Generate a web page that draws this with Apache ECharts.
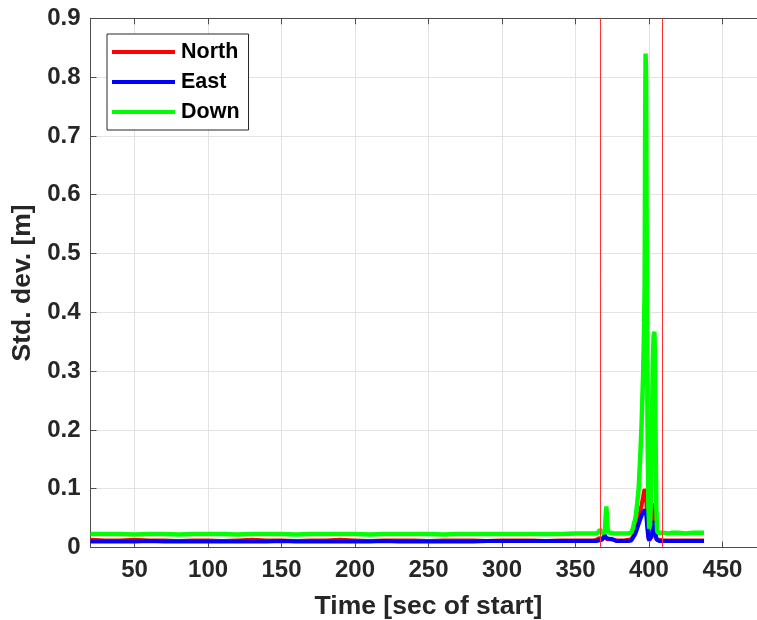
<!DOCTYPE html>
<html>
<head>
<meta charset="utf-8">
<title>Position standard deviation</title>
<script src="https://cdn.jsdelivr.net/npm/echarts@6/dist/echarts.min.js"></script>
<style>
  html, body { margin: 0; padding: 0; background: #ffffff; }
  #chart { width: 757px; height: 620px; }
</style>
</head>
<body>
<div id="chart"></div>
<script>
// Sample times, seconds since start
const timeSec = [
  20, 30, 40, 50, 60, 70, 80, 90, 100, 110, 120, 130, 140, 150, 160, 170, 180, 190,
  200, 210, 220, 230, 240, 250, 260, 270, 280, 290, 300, 310, 320, 330, 340, 350, 360,
  362, 364, 366, 366.5, 367, 368, 369, 370, 370.5, 371, 371.5, 372, 373, 374, 375, 376,
  378, 380, 383, 386, 388,
  389, 390, 391, 392, 393, 394, 395, 396, 396.6, 397.1, 397.4, 397.7, 398.1, 398.5,
  399, 399.6, 400.2, 400.8, 401.4, 402, 402.6, 403.2, 403.7, 404.1, 404.5, 405, 405.5,
  406, 407, 408, 410, 413, 416, 420, 425, 430, 435, 437.5
];

// Standard deviation of the North component [m]
const northStd = [
  0.013, 0.012, 0.012, 0.013, 0.012, 0.012, 0.011, 0.012, 0.012, 0.011, 0.012, 0.013,
  0.012, 0.012, 0.011, 0.012, 0.012, 0.013, 0.012, 0.011, 0.012, 0.012, 0.012, 0.011,
  0.012, 0.012, 0.012, 0.011, 0.012, 0.012, 0.012, 0.011, 0.012, 0.012, 0.012,
  0.012, 0.013, 0.016, 0.018, 0.016, 0.014, 0.015, 0.019, 0.018, 0.016, 0.014, 0.013,
  0.014, 0.016, 0.014, 0.013, 0.012, 0.012, 0.012, 0.013, 0.014,
  0.016, 0.022, 0.032, 0.040, 0.050, 0.060, 0.072, 0.086, 0.095, 0.099, 0.099, 0.095,
  0.085, 0.065, 0.040, 0.020, 0.014, 0.013, 0.014, 0.018, 0.022, 0.030, 0.075, 0.060,
  0.030, 0.018, 0.014, 0.013, 0.013, 0.012, 0.012, 0.012, 0.012, 0.012, 0.012, 0.012,
  0.012, 0.012
];

// Standard deviation of the East component [m]
const eastStd = [
  0.010, 0.010, 0.010, 0.010, 0.011, 0.010, 0.010, 0.010, 0.010, 0.010, 0.010, 0.010,
  0.010, 0.011, 0.010, 0.010, 0.010, 0.010, 0.010, 0.010, 0.011, 0.010, 0.010, 0.010,
  0.010, 0.010, 0.010, 0.011, 0.011, 0.011, 0.011, 0.011, 0.011, 0.011, 0.011,
  0.011, 0.011, 0.012, 0.013, 0.012, 0.013, 0.016, 0.021, 0.019, 0.016, 0.014, 0.013,
  0.015, 0.018, 0.014, 0.012, 0.011, 0.011, 0.011, 0.011, 0.012,
  0.014, 0.020, 0.025, 0.032, 0.040, 0.047, 0.054, 0.060, 0.062, 0.063, 0.064, 0.063,
  0.058, 0.045, 0.030, 0.016, 0.012, 0.013, 0.018, 0.025, 0.028, 0.025, 0.045, 0.040,
  0.022, 0.014, 0.012, 0.011, 0.011, 0.011, 0.011, 0.011, 0.011, 0.011, 0.011, 0.011,
  0.011, 0.011
];

// Standard deviation of the Down component [m]
const downStd = [
  0.023, 0.023, 0.023, 0.022, 0.023, 0.023, 0.022, 0.023, 0.023, 0.023, 0.022, 0.023,
  0.023, 0.023, 0.022, 0.023, 0.023, 0.023, 0.023, 0.022, 0.023, 0.023, 0.023, 0.023,
  0.022, 0.023, 0.023, 0.023, 0.023, 0.023, 0.023, 0.023, 0.023, 0.024, 0.024,
  0.024, 0.024, 0.026, 0.031, 0.028, 0.025, 0.025, 0.026, 0.050, 0.070, 0.050, 0.026,
  0.025, 0.025, 0.024, 0.024, 0.024, 0.024, 0.024, 0.024, 0.025,
  0.032, 0.042, 0.052, 0.075, 0.100, 0.150, 0.210, 0.290, 0.360, 0.450, 0.700, 0.840,
  0.800, 0.520, 0.220, 0.070, 0.032, 0.040, 0.090, 0.200, 0.310, 0.360, 0.367, 0.330,
  0.200, 0.070, 0.030, 0.025, 0.025, 0.025, 0.025, 0.024, 0.025, 0.025, 0.024, 0.025,
  0.025, 0.025
];

// Start and end of the flagged interval [s]
const eventBounds = [366.7, 408.9];

// Axis tick values
const xTicks = [50, 100, 150, 200, 250, 300, 350, 400, 450];
const seriesNames = ['North', 'East', 'Down'];
const seriesColors = ['#ff0000', '#0000ff', '#00ff00'];

const FONT = '"Liberation Sans", Arial, Helvetica, sans-serif';
const AXIS_COLOR = '#4d4d4d';
const TEXT_COLOR = '#262626';

const pairs = vals => timeSec.map((t, i) => [t, vals[i]]);

const chart = echarts.init(document.getElementById('chart'), null, { renderer: 'canvas' });

const xCommon = {
  type: 'value',
  min: 20,
  max: 480,
  axisLine: { show: true, onZero: false, lineStyle: { color: AXIS_COLOR, width: 1 } },
  axisTick: { show: true, inside: true, length: 6, customValues: xTicks,
              lineStyle: { color: AXIS_COLOR, width: 1 } }
};

chart.setOption({
  animation: false,
  backgroundColor: '#ffffff',
  textStyle: { fontFamily: FONT },
  grid: {
    left: 90.5, top: 18.3, width: 676, height: 529.2,
    containLabel: false, outerBoundsMode: 'none'
  },
  legend: {
    orient: 'vertical',
    left: 107, top: 34,
    padding: [7, 9, 7, 5],
    itemGap: 8,
    itemWidth: 63,
    itemHeight: 4,
    icon: 'rect',
    backgroundColor: '#ffffff',
    borderColor: '#262626',
    borderWidth: 1,
    borderRadius: 0,
    data: seriesNames,
    textStyle: { fontFamily: FONT, fontWeight: 'bold', fontSize: 21.5, color: '#000000',
                 lineHeight: 22, padding: [0, 0, 0, 1] }
  },
  xAxis: [
    Object.assign({}, xCommon, {
      position: 'bottom',
      name: 'Time [sec of start]',
      nameLocation: 'middle',
      nameGap: 46,
      nameTextStyle: { fontFamily: FONT, fontWeight: 'bold', fontSize: 26.5, color: TEXT_COLOR },
      axisLabel: { show: true, customValues: xTicks, margin: 11, fontFamily: FONT,
                   fontWeight: 'bold', fontSize: 24, color: TEXT_COLOR },
      splitLine: { show: true, lineStyle: { color: '#e3e3e3', width: 1 } }
    }),
    Object.assign({}, xCommon, {
      position: 'top',
      axisLabel: { show: false },
      splitLine: { show: false }
    })
  ],
  yAxis: {
    type: 'value',
    min: 0,
    max: 0.9,
    interval: 0.1,
    name: 'Std. dev. [m]',
    nameLocation: 'middle',
    nameGap: 52,
    nameTextStyle: { fontFamily: FONT, fontWeight: 'bold', fontSize: 26.5, color: TEXT_COLOR },
    axisLine: { show: true, lineStyle: { color: AXIS_COLOR, width: 1 } },
    axisTick: { show: true, inside: true, length: 6, lineStyle: { color: AXIS_COLOR, width: 1 } },
    axisLabel: { margin: 10, fontFamily: FONT, fontWeight: 'bold', fontSize: 24, color: TEXT_COLOR,
                 formatter: v => String(Math.round(v * 10) / 10) },
    splitLine: { show: true, lineStyle: { color: '#e3e3e3', width: 1 } }
  },
  series: [
    {
      name: seriesNames[0], type: 'line', data: pairs(northStd),
      showSymbol: false, symbol: 'none', color: seriesColors[0],
      lineStyle: { color: seriesColors[0], width: 4 },
      markLine: {
        silent: true, symbol: 'none', animation: false,
        label: { show: false },
        lineStyle: { color: '#ff3030', width: 1, type: 'solid' },
        data: eventBounds.map(x => ({ xAxis: x }))
      }
    },
    {
      name: seriesNames[1], type: 'line', data: pairs(eastStd),
      showSymbol: false, symbol: 'none', color: seriesColors[1],
      lineStyle: { color: seriesColors[1], width: 4 }
    },
    {
      name: seriesNames[2], type: 'line', data: pairs(downStd),
      showSymbol: false, symbol: 'none', color: seriesColors[2],
      lineStyle: { color: seriesColors[2], width: 4.5 }
    }
  ]
});
</script>
</body>
</html>
